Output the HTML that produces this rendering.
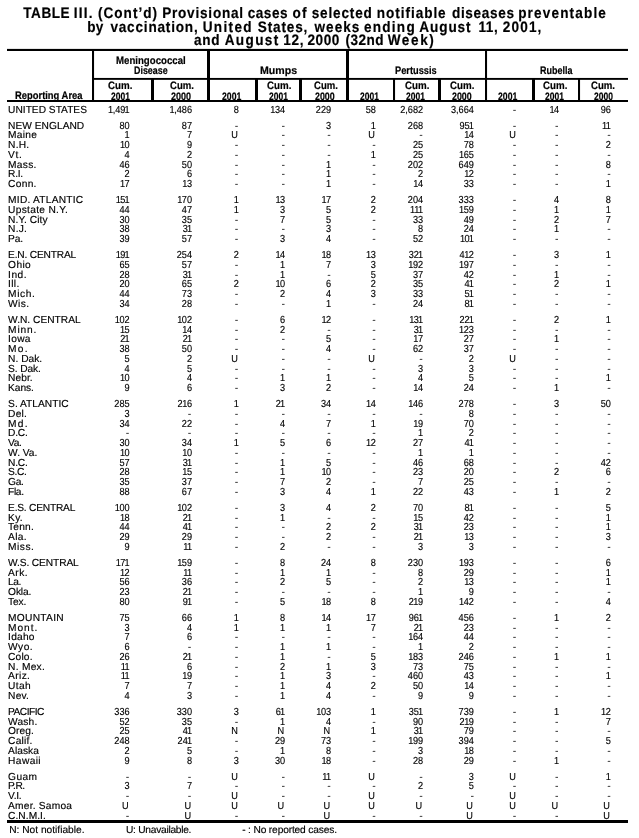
<!DOCTYPE html>
<html lang="en">
<head>
<meta charset="utf-8">
<title>TABLE III. Provisional cases of selected notifiable diseases preventable by vaccination</title>
<style>
html,body{margin:0;padding:0;background:#fff;}
body{width:639px;height:838px;position:relative;overflow:hidden;font-family:"Liberation Sans",sans-serif;color:#000;text-rendering:geometricPrecision;}
#pg{position:absolute;left:0;top:0;width:639px;height:838px;overflow:hidden;background:#fff;will-change:transform;transform:translateZ(0);-webkit-font-smoothing:antialiased;}
.t{position:absolute;font-weight:bold;white-space:nowrap;-webkit-text-stroke:0.2px #000;}
.g{position:absolute;left:0;top:0;}
#lab,#num,#ttl{position:absolute;left:0;top:0;height:838px;}
#ttl{height:48px;}
#lab{width:639px;}
.h{position:absolute;font-weight:bold;white-space:nowrap;transform-origin:0 0;-webkit-text-stroke:0.2px #000;}
.r{position:absolute;left:0;width:639px;white-space:nowrap;}
.r,.f{-webkit-text-stroke:0.15px #000;}
.r .l{position:absolute;top:0;}
.c{position:absolute;top:0;width:60px;text-align:right;box-sizing:border-box;}
.f{position:absolute;white-space:nowrap;}
.c i{font-style:normal;margin-left:-0.5px;margin-right:-0.5px;}
.c i.e{margin-left:-1px;margin-right:0;}
.r,.f{font-size:10.2px;line-height:10px;height:10px;}
.r .l{left:8.1px;letter-spacing:0.3px;}
.r .up{letter-spacing:0.0px;}
.c{letter-spacing:0px;}
.d{padding-right:0.3px;transform:scaleX(1.15);transform-origin:100% 50%;-webkit-text-stroke:0;}
.u{padding-right:1.1px;}
.h{font-size:10.8px;line-height:12px;letter-spacing:0px;}
.t{font-size:15.2px;line-height:16px;letter-spacing:0.5px;}
</style>
</head>
<body>
<div id="pg">
<div id="ttl" style="transform:scaleX(0.894);transform-origin:0 0;width:714.8px">
<span class="t" style="top:6.00px;left:26.01px;letter-spacing:0.604px">TABLE</span>
<span class="t" style="top:6.00px;left:82.61px;letter-spacing:1.311px">III.</span>
<span class="t" style="top:6.00px;left:109.56px;letter-spacing:1.126px">(Cont’d)</span>
<span class="t" style="top:6.00px;left:181.38px;letter-spacing:0.872px">Provisional</span>
<span class="t" style="top:6.00px;left:277.13px;letter-spacing:0.559px">cases</span>
<span class="t" style="top:6.00px;left:327.29px;letter-spacing:1.253px">of</span>
<span class="t" style="top:6.00px;left:348.60px;letter-spacing:0.946px">selected</span>
<span class="t" style="top:6.00px;left:421.36px;letter-spacing:1.073px">notifiable</span>
<span class="t" style="top:6.00px;left:505.54px;letter-spacing:0.742px">diseases</span>
<span class="t" style="top:6.00px;left:579.64px;letter-spacing:1.280px">preventable</span>
<span class="t" style="top:20.00px;left:97.48px;letter-spacing:0.224px">by</span>
<span class="t" style="top:20.00px;left:123.49px;letter-spacing:0.899px">vaccination,</span>
<span class="t" style="top:20.00px;left:226.68px;letter-spacing:1.494px">United</span>
<span class="t" style="top:20.00px;left:288.42px;letter-spacing:0.924px">States,</span>
<span class="t" style="top:20.00px;left:351.79px;letter-spacing:1.152px">weeks</span>
<span class="t" style="top:20.00px;left:407.10px;letter-spacing:1.396px">ending</span>
<span class="t" style="top:20.00px;left:469.02px;letter-spacing:1.002px">August</span>
<span class="t" style="top:20.00px;left:535.23px;letter-spacing:0.582px">11,</span>
<span class="t" style="top:20.00px;left:562.47px;letter-spacing:1.275px">2001,</span>
<span class="t" style="top:33.40px;left:217.00px;letter-spacing:0.850px">and</span>
<span class="t" style="top:33.40px;left:251.29px;letter-spacing:1.539px">August</span>
<span class="t" style="top:33.40px;left:316.72px;letter-spacing:0.783px">12,</span>
<span class="t" style="top:33.40px;left:343.96px;letter-spacing:0.641px">2000</span>
<span class="t" style="top:33.40px;left:386.41px;letter-spacing:0.503px">(32nd</span>
<span class="t" style="top:33.40px;left:433.61px;letter-spacing:1.812px">Week)</span>
</div>
<svg class="g" width="639" height="838" viewBox="0 0 639 838">
<rect x="7" y="48.9" width="621" height="2.1" fill="#000"/>
<rect x="93" y="77.95" width="535" height="1.9" fill="#000"/>
<rect x="7" y="100" width="621" height="2" fill="#000"/>
<rect x="7" y="820" width="621" height="3" fill="#000"/>
<rect x="92" y="49" width="2.05" height="53" fill="#000"/>
<rect x="207" y="49" width="3" height="53" fill="#000"/>
<rect x="346" y="49" width="3" height="53" fill="#000"/>
<rect x="485" y="49" width="2.05" height="53" fill="#000"/>
<rect x="151" y="78" width="3" height="24" fill="#000"/>
<rect x="255" y="78" width="3" height="24" fill="#000"/>
<rect x="299" y="78" width="3" height="24" fill="#000"/>
<rect x="393" y="78" width="2.05" height="24" fill="#000"/>
<rect x="438" y="78" width="3" height="24" fill="#000"/>
<rect x="532" y="78" width="3" height="24" fill="#000"/>
<rect x="578" y="78" width="2.05" height="24" fill="#000"/>
</svg>
<div class="h" style="left:14.60px;top:90.00px;transform:scaleX(0.8698)">Reporting Area</div>
<div class="h" style="left:115.65px;top:55.00px;transform:scaleX(0.8937)">Meningococcal</div>
<div class="h" style="left:133.65px;top:65.00px;transform:scaleX(0.8238)">Disease</div>
<div class="h" style="left:259.55px;top:65.00px;transform:scaleX(0.9809)">Mumps</div>
<div class="h" style="left:394.50px;top:65.00px;transform:scaleX(0.8565)">Pertussis</div>
<div class="h" style="left:539.50px;top:65.00px;transform:scaleX(0.8323)">Rubella</div>
<div class="h" style="left:107.60px;top:80.00px;transform:scaleX(0.9038)">Cum.</div>
<div class="h" style="left:110.65px;top:91.00px;transform:scaleX(0.7852)">2001</div>
<div class="h" style="left:169.55px;top:80.00px;transform:scaleX(0.8866)">Cum.</div>
<div class="h" style="left:170.55px;top:91.00px;transform:scaleX(0.8361)">2000</div>
<div class="h" style="left:221.80px;top:91.00px;transform:scaleX(0.8042)">2001</div>
<div class="h" style="left:266.50px;top:80.00px;transform:scaleX(0.9020)">Cum.</div>
<div class="h" style="left:268.60px;top:91.00px;transform:scaleX(0.7852)">2001</div>
<div class="h" style="left:313.55px;top:80.00px;transform:scaleX(0.8866)">Cum.</div>
<div class="h" style="left:314.70px;top:91.00px;transform:scaleX(0.8216)">2000</div>
<div class="h" style="left:359.60px;top:91.00px;transform:scaleX(0.7852)">2001</div>
<div class="h" style="left:404.65px;top:80.00px;transform:scaleX(0.9038)">Cum.</div>
<div class="h" style="left:405.80px;top:91.00px;transform:scaleX(0.7852)">2001</div>
<div class="h" style="left:449.50px;top:80.00px;transform:scaleX(0.9038)">Cum.</div>
<div class="h" style="left:451.65px;top:91.00px;transform:scaleX(0.8216)">2000</div>
<div class="h" style="left:497.80px;top:91.00px;transform:scaleX(0.8042)">2001</div>
<div class="h" style="left:542.50px;top:80.00px;transform:scaleX(0.9020)">Cum.</div>
<div class="h" style="left:544.60px;top:91.00px;transform:scaleX(0.7852)">2001</div>
<div class="h" style="left:590.50px;top:80.00px;transform:scaleX(0.8905)">Cum.</div>
<div class="h" style="left:593.50px;top:91.00px;transform:scaleX(0.7872)">2000</div>
<div id="lab">
<div class="r" style="top:106.00px"><span class="l" style="letter-spacing:0.000px">UNITED STATES</span></div>
<div class="r" style="top:122.00px"><span class="l" style="letter-spacing:0.025px">NEW ENGLAND</span></div>
<div class="r" style="top:131.00px"><span class="l" style="letter-spacing:0.288px">Maine</span></div>
<div class="r" style="top:141.00px"><span class="l" style="letter-spacing:0.217px">N.H.</span></div>
<div class="r" style="top:151.00px"><span class="l" style="letter-spacing:0.675px">Vt.</span></div>
<div class="r" style="top:161.00px"><span class="l" style="letter-spacing:0.288px">Mass.</span></div>
<div class="r" style="top:170.00px"><span class="l" style="letter-spacing:-0.300px">R.I.</span></div>
<div class="r" style="top:180.00px"><span class="l" style="letter-spacing:0.288px">Conn.</span></div>
<div class="r" style="top:196.00px"><span class="l" style="letter-spacing:0.234px">MID. ATLANTIC</span></div>
<div class="r" style="top:206.00px"><span class="l" style="letter-spacing:0.295px">Upstate N.Y.</span></div>
<div class="r" style="top:216.00px"><span class="l" style="letter-spacing:0.082px">N.Y. City</span></div>
<div class="r" style="top:225.00px"><span class="l" style="letter-spacing:0.183px">N.J.</span></div>
<div class="r" style="top:235.00px"><span class="l" style="letter-spacing:-0.175px">Pa.</span></div>
<div class="r" style="top:251.00px"><span class="l" style="letter-spacing:-0.187px">E.N. CENTRAL</span></div>
<div class="r" style="top:261.00px"><span class="l" style="letter-spacing:0.383px">Ohio</span></div>
<div class="r" style="top:271.00px"><span class="l" style="letter-spacing:0.517px">Ind.</span></div>
<div class="r" style="top:280.00px"><span class="l" style="letter-spacing:0.333px">Ill.</span></div>
<div class="r" style="top:290.00px"><span class="l" style="letter-spacing:0.613px">Mich.</span></div>
<div class="r" style="top:300.00px"><span class="l" style="letter-spacing:0.383px">Wis.</span></div>
<div class="r" style="top:316.00px"><span class="l" style="letter-spacing:0.005px">W.N. CENTRAL</span></div>
<div class="r" style="top:326.00px"><span class="l" style="letter-spacing:0.812px">Minn.</span></div>
<div class="r" style="top:335.00px"><span class="l" style="letter-spacing:0.300px">Iowa</span></div>
<div class="r" style="top:345.00px"><span class="l" style="letter-spacing:1.200px">Mo.</span></div>
<div class="r" style="top:355.00px"><span class="l" style="letter-spacing:0.008px">N. Dak.</span></div>
<div class="r" style="top:365.00px"><span class="l" style="letter-spacing:-0.091px">S. Dak.</span></div>
<div class="r" style="top:374.00px"><span class="l" style="letter-spacing:0.062px">Nebr.</span></div>
<div class="r" style="top:384.00px"><span class="l" style="letter-spacing:-0.062px">Kans.</span></div>
<div class="r" style="top:400.00px"><span class="l" style="letter-spacing:0.010px">S. ATLANTIC</span></div>
<div class="r" style="top:410.00px"><span class="l" style="letter-spacing:0.233px">Del.</span></div>
<div class="r" style="top:420.00px"><span class="l" style="letter-spacing:1.275px">Md.</span></div>
<div class="r" style="top:429.00px"><span class="l" style="letter-spacing:-0.233px">D.C.</span></div>
<div class="r" style="top:439.00px"><span class="l" style="letter-spacing:-0.450px">Va.</span></div>
<div class="r" style="top:449.00px"><span class="l" style="letter-spacing:-0.010px">W. Va.</span></div>
<div class="r" style="top:459.00px"><span class="l" style="letter-spacing:-0.233px">N.C.</span></div>
<div class="r" style="top:468.00px"><span class="l" style="letter-spacing:-0.350px">S.C.</span></div>
<div class="r" style="top:478.00px"><span class="l" style="letter-spacing:-0.300px">Ga.</span></div>
<div class="r" style="top:488.00px"><span class="l" style="letter-spacing:-0.367px">Fla.</span></div>
<div class="r" style="top:504.00px"><span class="l" style="letter-spacing:-0.214px">E.S. CENTRAL</span></div>
<div class="r" style="top:514.00px"><span class="l" style="letter-spacing:0.275px">Ky.</span></div>
<div class="r" style="top:523.00px"><span class="l" style="letter-spacing:0.188px">Tenn.</span></div>
<div class="r" style="top:533.00px"><span class="l" style="letter-spacing:0.350px">Ala.</span></div>
<div class="r" style="top:543.00px"><span class="l" style="letter-spacing:0.500px">Miss.</span></div>
<div class="r" style="top:559.00px"><span class="l" style="letter-spacing:-0.114px">W.S. CENTRAL</span></div>
<div class="r" style="top:569.00px"><span class="l" style="letter-spacing:0.467px">Ark.</span></div>
<div class="r" style="top:578.00px"><span class="l" style="letter-spacing:-0.425px">La.</span></div>
<div class="r" style="top:588.00px"><span class="l" style="letter-spacing:-0.125px">Okla.</span></div>
<div class="r" style="top:598.00px"><span class="l" style="letter-spacing:-0.117px">Tex.</span></div>
<div class="r" style="top:614.00px"><span class="l" style="letter-spacing:0.286px">MOUNTAIN</span></div>
<div class="r" style="top:624.00px"><span class="l" style="letter-spacing:0.926px">Mont.</span></div>
<div class="r" style="top:633.00px"><span class="l" style="letter-spacing:0.238px">Idaho</span></div>
<div class="r" style="top:643.00px"><span class="l" style="letter-spacing:0.467px">Wyo.</span></div>
<div class="r" style="top:653.00px"><span class="l" style="letter-spacing:0.162px">Colo.</span></div>
<div class="r" style="top:663.00px"><span class="l" style="letter-spacing:0.258px">N. Mex.</span></div>
<div class="r" style="top:672.00px"><span class="l" style="letter-spacing:0.363px">Ariz.</span></div>
<div class="r" style="top:682.00px"><span class="l" style="letter-spacing:0.317px">Utah</span></div>
<div class="r" style="top:692.00px"><span class="l" style="letter-spacing:0.216px">Nev.</span></div>
<div class="r" style="top:708.00px"><span class="l" style="letter-spacing:-0.533px">PACIFIC</span></div>
<div class="r" style="top:718.00px"><span class="l" style="letter-spacing:0.176px">Wash.</span></div>
<div class="r" style="top:727.00px"><span class="l" style="letter-spacing:0.062px">Oreg.</span></div>
<div class="r" style="top:737.00px"><span class="l" style="letter-spacing:0.230px">Calif.</span></div>
<div class="r" style="top:747.00px"><span class="l" style="letter-spacing:0.040px">Alaska</span></div>
<div class="r" style="top:757.00px"><span class="l" style="letter-spacing:0.390px">Hawaii</span></div>
<div class="r" style="top:773.00px"><span class="l" style="letter-spacing:0.367px">Guam</span></div>
<div class="r" style="top:782.00px"><span class="l" style="letter-spacing:-0.483px">P.R.</span></div>
<div class="r" style="top:792.00px"><span class="l" style="letter-spacing:-0.283px">V.I.</span></div>
<div class="r" style="top:802.00px"><span class="l" style="letter-spacing:0.220px">Amer. Samoa</span></div>
<div class="r" style="top:812.00px"><span class="l" style="letter-spacing:0.042px">C.N.M.I.</span></div>
</div>
<div id="num" style="transform:scaleX(0.9);transform-origin:0 0;width:710.00px">
<div class="r" style="top:106.00px;width:710.00px"><span class="c" style="left:84.06px"><i>1</i>,49<i class="e">1</i></span><span class="c" style="left:153.39px"><i>1</i>,486</span><span class="c" style="left:205.28px">8</span><span class="c" style="left:256.83px"><i>1</i>34</span><span class="c" style="left:307.94px">229</span><span class="c" style="left:357.61px">58</span><span class="c" style="left:410.11px">2,682</span><span class="c" style="left:466.56px">3,664</span><span class="c d" style="left:514.28px">-</span><span class="c" style="left:561.28px"><i>1</i>4</span><span class="c" style="left:618.72px">96</span></div>
<div class="r" style="top:122.00px;width:710.00px"><span class="c" style="left:84.06px">80</span><span class="c" style="left:153.39px">87</span><span class="c d" style="left:205.28px">-</span><span class="c d" style="left:256.83px">-</span><span class="c" style="left:307.94px">3</span><span class="c" style="left:357.61px"><i class="e">1</i></span><span class="c" style="left:410.11px">268</span><span class="c" style="left:466.56px">95<i class="e">1</i></span><span class="c d" style="left:514.28px">-</span><span class="c d" style="left:561.28px">-</span><span class="c" style="left:618.72px"><i>1</i><i class="e">1</i></span></div>
<div class="r" style="top:131.00px;width:710.00px"><span class="c" style="left:84.06px"><i class="e">1</i></span><span class="c" style="left:153.39px">7</span><span class="c u" style="left:205.28px">U</span><span class="c d" style="left:256.83px">-</span><span class="c d" style="left:307.94px">-</span><span class="c u" style="left:357.61px">U</span><span class="c d" style="left:410.11px">-</span><span class="c" style="left:466.56px"><i>1</i>4</span><span class="c u" style="left:514.28px">U</span><span class="c d" style="left:561.28px">-</span><span class="c d" style="left:618.72px">-</span></div>
<div class="r" style="top:141.00px;width:710.00px"><span class="c" style="left:84.06px"><i>1</i>0</span><span class="c" style="left:153.39px">9</span><span class="c d" style="left:205.28px">-</span><span class="c d" style="left:256.83px">-</span><span class="c d" style="left:307.94px">-</span><span class="c d" style="left:357.61px">-</span><span class="c" style="left:410.11px">25</span><span class="c" style="left:466.56px">78</span><span class="c d" style="left:514.28px">-</span><span class="c d" style="left:561.28px">-</span><span class="c" style="left:618.72px">2</span></div>
<div class="r" style="top:151.00px;width:710.00px"><span class="c" style="left:84.06px">4</span><span class="c" style="left:153.39px">2</span><span class="c d" style="left:205.28px">-</span><span class="c d" style="left:256.83px">-</span><span class="c d" style="left:307.94px">-</span><span class="c" style="left:357.61px"><i class="e">1</i></span><span class="c" style="left:410.11px">25</span><span class="c" style="left:466.56px"><i>1</i>65</span><span class="c d" style="left:514.28px">-</span><span class="c d" style="left:561.28px">-</span><span class="c d" style="left:618.72px">-</span></div>
<div class="r" style="top:161.00px;width:710.00px"><span class="c" style="left:84.06px">46</span><span class="c" style="left:153.39px">50</span><span class="c d" style="left:205.28px">-</span><span class="c d" style="left:256.83px">-</span><span class="c" style="left:307.94px"><i class="e">1</i></span><span class="c d" style="left:357.61px">-</span><span class="c" style="left:410.11px">202</span><span class="c" style="left:466.56px">649</span><span class="c d" style="left:514.28px">-</span><span class="c d" style="left:561.28px">-</span><span class="c" style="left:618.72px">8</span></div>
<div class="r" style="top:170.00px;width:710.00px"><span class="c" style="left:84.06px">2</span><span class="c" style="left:153.39px">6</span><span class="c d" style="left:205.28px">-</span><span class="c d" style="left:256.83px">-</span><span class="c" style="left:307.94px"><i class="e">1</i></span><span class="c d" style="left:357.61px">-</span><span class="c" style="left:410.11px">2</span><span class="c" style="left:466.56px"><i>1</i>2</span><span class="c d" style="left:514.28px">-</span><span class="c d" style="left:561.28px">-</span><span class="c d" style="left:618.72px">-</span></div>
<div class="r" style="top:180.00px;width:710.00px"><span class="c" style="left:84.06px"><i>1</i>7</span><span class="c" style="left:153.39px"><i>1</i>3</span><span class="c d" style="left:205.28px">-</span><span class="c d" style="left:256.83px">-</span><span class="c" style="left:307.94px"><i class="e">1</i></span><span class="c d" style="left:357.61px">-</span><span class="c" style="left:410.11px"><i>1</i>4</span><span class="c" style="left:466.56px">33</span><span class="c d" style="left:514.28px">-</span><span class="c d" style="left:561.28px">-</span><span class="c" style="left:618.72px"><i class="e">1</i></span></div>
<div class="r" style="top:196.00px;width:710.00px"><span class="c" style="left:84.06px"><i>1</i>5<i class="e">1</i></span><span class="c" style="left:153.39px"><i>1</i>70</span><span class="c" style="left:205.28px"><i class="e">1</i></span><span class="c" style="left:256.83px"><i>1</i>3</span><span class="c" style="left:307.94px"><i>1</i>7</span><span class="c" style="left:357.61px">2</span><span class="c" style="left:410.11px">204</span><span class="c" style="left:466.56px">333</span><span class="c d" style="left:514.28px">-</span><span class="c" style="left:561.28px">4</span><span class="c" style="left:618.72px">8</span></div>
<div class="r" style="top:206.00px;width:710.00px"><span class="c" style="left:84.06px">44</span><span class="c" style="left:153.39px">47</span><span class="c" style="left:205.28px"><i class="e">1</i></span><span class="c" style="left:256.83px">3</span><span class="c" style="left:307.94px">5</span><span class="c" style="left:357.61px">2</span><span class="c" style="left:410.11px"><i>1</i><i>1</i><i class="e">1</i></span><span class="c" style="left:466.56px"><i>1</i>59</span><span class="c d" style="left:514.28px">-</span><span class="c" style="left:561.28px"><i class="e">1</i></span><span class="c" style="left:618.72px"><i class="e">1</i></span></div>
<div class="r" style="top:216.00px;width:710.00px"><span class="c" style="left:84.06px">30</span><span class="c" style="left:153.39px">35</span><span class="c d" style="left:205.28px">-</span><span class="c" style="left:256.83px">7</span><span class="c" style="left:307.94px">5</span><span class="c d" style="left:357.61px">-</span><span class="c" style="left:410.11px">33</span><span class="c" style="left:466.56px">49</span><span class="c d" style="left:514.28px">-</span><span class="c" style="left:561.28px">2</span><span class="c" style="left:618.72px">7</span></div>
<div class="r" style="top:225.00px;width:710.00px"><span class="c" style="left:84.06px">38</span><span class="c" style="left:153.39px">3<i class="e">1</i></span><span class="c d" style="left:205.28px">-</span><span class="c d" style="left:256.83px">-</span><span class="c" style="left:307.94px">3</span><span class="c d" style="left:357.61px">-</span><span class="c" style="left:410.11px">8</span><span class="c" style="left:466.56px">24</span><span class="c d" style="left:514.28px">-</span><span class="c" style="left:561.28px"><i class="e">1</i></span><span class="c d" style="left:618.72px">-</span></div>
<div class="r" style="top:235.00px;width:710.00px"><span class="c" style="left:84.06px">39</span><span class="c" style="left:153.39px">57</span><span class="c d" style="left:205.28px">-</span><span class="c" style="left:256.83px">3</span><span class="c" style="left:307.94px">4</span><span class="c d" style="left:357.61px">-</span><span class="c" style="left:410.11px">52</span><span class="c" style="left:466.56px"><i>1</i>0<i class="e">1</i></span><span class="c d" style="left:514.28px">-</span><span class="c d" style="left:561.28px">-</span><span class="c d" style="left:618.72px">-</span></div>
<div class="r" style="top:251.00px;width:710.00px"><span class="c" style="left:84.06px"><i>1</i>9<i class="e">1</i></span><span class="c" style="left:153.39px">254</span><span class="c" style="left:205.28px">2</span><span class="c" style="left:256.83px"><i>1</i>4</span><span class="c" style="left:307.94px"><i>1</i>8</span><span class="c" style="left:357.61px"><i>1</i>3</span><span class="c" style="left:410.11px">32<i class="e">1</i></span><span class="c" style="left:466.56px">4<i>1</i>2</span><span class="c d" style="left:514.28px">-</span><span class="c" style="left:561.28px">3</span><span class="c" style="left:618.72px"><i class="e">1</i></span></div>
<div class="r" style="top:261.00px;width:710.00px"><span class="c" style="left:84.06px">65</span><span class="c" style="left:153.39px">57</span><span class="c d" style="left:205.28px">-</span><span class="c" style="left:256.83px"><i class="e">1</i></span><span class="c" style="left:307.94px">7</span><span class="c" style="left:357.61px">3</span><span class="c" style="left:410.11px"><i>1</i>92</span><span class="c" style="left:466.56px"><i>1</i>97</span><span class="c d" style="left:514.28px">-</span><span class="c d" style="left:561.28px">-</span><span class="c d" style="left:618.72px">-</span></div>
<div class="r" style="top:271.00px;width:710.00px"><span class="c" style="left:84.06px">28</span><span class="c" style="left:153.39px">3<i class="e">1</i></span><span class="c d" style="left:205.28px">-</span><span class="c" style="left:256.83px"><i class="e">1</i></span><span class="c d" style="left:307.94px">-</span><span class="c" style="left:357.61px">5</span><span class="c" style="left:410.11px">37</span><span class="c" style="left:466.56px">42</span><span class="c d" style="left:514.28px">-</span><span class="c" style="left:561.28px"><i class="e">1</i></span><span class="c d" style="left:618.72px">-</span></div>
<div class="r" style="top:280.00px;width:710.00px"><span class="c" style="left:84.06px">20</span><span class="c" style="left:153.39px">65</span><span class="c" style="left:205.28px">2</span><span class="c" style="left:256.83px"><i>1</i>0</span><span class="c" style="left:307.94px">6</span><span class="c" style="left:357.61px">2</span><span class="c" style="left:410.11px">35</span><span class="c" style="left:466.56px">4<i class="e">1</i></span><span class="c d" style="left:514.28px">-</span><span class="c" style="left:561.28px">2</span><span class="c" style="left:618.72px"><i class="e">1</i></span></div>
<div class="r" style="top:290.00px;width:710.00px"><span class="c" style="left:84.06px">44</span><span class="c" style="left:153.39px">73</span><span class="c d" style="left:205.28px">-</span><span class="c" style="left:256.83px">2</span><span class="c" style="left:307.94px">4</span><span class="c" style="left:357.61px">3</span><span class="c" style="left:410.11px">33</span><span class="c" style="left:466.56px">5<i class="e">1</i></span><span class="c d" style="left:514.28px">-</span><span class="c d" style="left:561.28px">-</span><span class="c d" style="left:618.72px">-</span></div>
<div class="r" style="top:300.00px;width:710.00px"><span class="c" style="left:84.06px">34</span><span class="c" style="left:153.39px">28</span><span class="c d" style="left:205.28px">-</span><span class="c d" style="left:256.83px">-</span><span class="c" style="left:307.94px"><i class="e">1</i></span><span class="c d" style="left:357.61px">-</span><span class="c" style="left:410.11px">24</span><span class="c" style="left:466.56px">8<i class="e">1</i></span><span class="c d" style="left:514.28px">-</span><span class="c d" style="left:561.28px">-</span><span class="c d" style="left:618.72px">-</span></div>
<div class="r" style="top:316.00px;width:710.00px"><span class="c" style="left:84.06px"><i>1</i>02</span><span class="c" style="left:153.39px"><i>1</i>02</span><span class="c d" style="left:205.28px">-</span><span class="c" style="left:256.83px">6</span><span class="c" style="left:307.94px"><i>1</i>2</span><span class="c d" style="left:357.61px">-</span><span class="c" style="left:410.11px"><i>1</i>3<i class="e">1</i></span><span class="c" style="left:466.56px">22<i class="e">1</i></span><span class="c d" style="left:514.28px">-</span><span class="c" style="left:561.28px">2</span><span class="c" style="left:618.72px"><i class="e">1</i></span></div>
<div class="r" style="top:326.00px;width:710.00px"><span class="c" style="left:84.06px"><i>1</i>5</span><span class="c" style="left:153.39px"><i>1</i>4</span><span class="c d" style="left:205.28px">-</span><span class="c" style="left:256.83px">2</span><span class="c d" style="left:307.94px">-</span><span class="c d" style="left:357.61px">-</span><span class="c" style="left:410.11px">3<i class="e">1</i></span><span class="c" style="left:466.56px"><i>1</i>23</span><span class="c d" style="left:514.28px">-</span><span class="c d" style="left:561.28px">-</span><span class="c d" style="left:618.72px">-</span></div>
<div class="r" style="top:335.00px;width:710.00px"><span class="c" style="left:84.06px">2<i class="e">1</i></span><span class="c" style="left:153.39px">2<i class="e">1</i></span><span class="c d" style="left:205.28px">-</span><span class="c d" style="left:256.83px">-</span><span class="c" style="left:307.94px">5</span><span class="c d" style="left:357.61px">-</span><span class="c" style="left:410.11px"><i>1</i>7</span><span class="c" style="left:466.56px">27</span><span class="c d" style="left:514.28px">-</span><span class="c" style="left:561.28px"><i class="e">1</i></span><span class="c d" style="left:618.72px">-</span></div>
<div class="r" style="top:345.00px;width:710.00px"><span class="c" style="left:84.06px">38</span><span class="c" style="left:153.39px">50</span><span class="c d" style="left:205.28px">-</span><span class="c d" style="left:256.83px">-</span><span class="c" style="left:307.94px">4</span><span class="c d" style="left:357.61px">-</span><span class="c" style="left:410.11px">62</span><span class="c" style="left:466.56px">37</span><span class="c d" style="left:514.28px">-</span><span class="c d" style="left:561.28px">-</span><span class="c d" style="left:618.72px">-</span></div>
<div class="r" style="top:355.00px;width:710.00px"><span class="c" style="left:84.06px">5</span><span class="c" style="left:153.39px">2</span><span class="c u" style="left:205.28px">U</span><span class="c d" style="left:256.83px">-</span><span class="c d" style="left:307.94px">-</span><span class="c u" style="left:357.61px">U</span><span class="c d" style="left:410.11px">-</span><span class="c" style="left:466.56px">2</span><span class="c u" style="left:514.28px">U</span><span class="c d" style="left:561.28px">-</span><span class="c d" style="left:618.72px">-</span></div>
<div class="r" style="top:365.00px;width:710.00px"><span class="c" style="left:84.06px">4</span><span class="c" style="left:153.39px">5</span><span class="c d" style="left:205.28px">-</span><span class="c d" style="left:256.83px">-</span><span class="c d" style="left:307.94px">-</span><span class="c d" style="left:357.61px">-</span><span class="c" style="left:410.11px">3</span><span class="c" style="left:466.56px">3</span><span class="c d" style="left:514.28px">-</span><span class="c d" style="left:561.28px">-</span><span class="c d" style="left:618.72px">-</span></div>
<div class="r" style="top:374.00px;width:710.00px"><span class="c" style="left:84.06px"><i>1</i>0</span><span class="c" style="left:153.39px">4</span><span class="c d" style="left:205.28px">-</span><span class="c" style="left:256.83px"><i class="e">1</i></span><span class="c" style="left:307.94px"><i class="e">1</i></span><span class="c d" style="left:357.61px">-</span><span class="c" style="left:410.11px">4</span><span class="c" style="left:466.56px">5</span><span class="c d" style="left:514.28px">-</span><span class="c d" style="left:561.28px">-</span><span class="c" style="left:618.72px"><i class="e">1</i></span></div>
<div class="r" style="top:384.00px;width:710.00px"><span class="c" style="left:84.06px">9</span><span class="c" style="left:153.39px">6</span><span class="c d" style="left:205.28px">-</span><span class="c" style="left:256.83px">3</span><span class="c" style="left:307.94px">2</span><span class="c d" style="left:357.61px">-</span><span class="c" style="left:410.11px"><i>1</i>4</span><span class="c" style="left:466.56px">24</span><span class="c d" style="left:514.28px">-</span><span class="c" style="left:561.28px"><i class="e">1</i></span><span class="c d" style="left:618.72px">-</span></div>
<div class="r" style="top:400.00px;width:710.00px"><span class="c" style="left:84.06px">285</span><span class="c" style="left:153.39px">2<i>1</i>6</span><span class="c" style="left:205.28px"><i class="e">1</i></span><span class="c" style="left:256.83px">2<i class="e">1</i></span><span class="c" style="left:307.94px">34</span><span class="c" style="left:357.61px"><i>1</i>4</span><span class="c" style="left:410.11px"><i>1</i>46</span><span class="c" style="left:466.56px">278</span><span class="c d" style="left:514.28px">-</span><span class="c" style="left:561.28px">3</span><span class="c" style="left:618.72px">50</span></div>
<div class="r" style="top:410.00px;width:710.00px"><span class="c" style="left:84.06px">3</span><span class="c d" style="left:153.39px">-</span><span class="c d" style="left:205.28px">-</span><span class="c d" style="left:256.83px">-</span><span class="c d" style="left:307.94px">-</span><span class="c d" style="left:357.61px">-</span><span class="c d" style="left:410.11px">-</span><span class="c" style="left:466.56px">8</span><span class="c d" style="left:514.28px">-</span><span class="c d" style="left:561.28px">-</span><span class="c d" style="left:618.72px">-</span></div>
<div class="r" style="top:420.00px;width:710.00px"><span class="c" style="left:84.06px">34</span><span class="c" style="left:153.39px">22</span><span class="c d" style="left:205.28px">-</span><span class="c" style="left:256.83px">4</span><span class="c" style="left:307.94px">7</span><span class="c" style="left:357.61px"><i class="e">1</i></span><span class="c" style="left:410.11px"><i>1</i>9</span><span class="c" style="left:466.56px">70</span><span class="c d" style="left:514.28px">-</span><span class="c d" style="left:561.28px">-</span><span class="c d" style="left:618.72px">-</span></div>
<div class="r" style="top:429.00px;width:710.00px"><span class="c d" style="left:84.06px">-</span><span class="c d" style="left:153.39px">-</span><span class="c d" style="left:205.28px">-</span><span class="c d" style="left:256.83px">-</span><span class="c d" style="left:307.94px">-</span><span class="c d" style="left:357.61px">-</span><span class="c" style="left:410.11px"><i class="e">1</i></span><span class="c" style="left:466.56px">2</span><span class="c d" style="left:514.28px">-</span><span class="c d" style="left:561.28px">-</span><span class="c d" style="left:618.72px">-</span></div>
<div class="r" style="top:439.00px;width:710.00px"><span class="c" style="left:84.06px">30</span><span class="c" style="left:153.39px">34</span><span class="c" style="left:205.28px"><i class="e">1</i></span><span class="c" style="left:256.83px">5</span><span class="c" style="left:307.94px">6</span><span class="c" style="left:357.61px"><i>1</i>2</span><span class="c" style="left:410.11px">27</span><span class="c" style="left:466.56px">4<i class="e">1</i></span><span class="c d" style="left:514.28px">-</span><span class="c d" style="left:561.28px">-</span><span class="c d" style="left:618.72px">-</span></div>
<div class="r" style="top:449.00px;width:710.00px"><span class="c" style="left:84.06px"><i>1</i>0</span><span class="c" style="left:153.39px"><i>1</i>0</span><span class="c d" style="left:205.28px">-</span><span class="c d" style="left:256.83px">-</span><span class="c d" style="left:307.94px">-</span><span class="c d" style="left:357.61px">-</span><span class="c" style="left:410.11px"><i class="e">1</i></span><span class="c" style="left:466.56px"><i class="e">1</i></span><span class="c d" style="left:514.28px">-</span><span class="c d" style="left:561.28px">-</span><span class="c d" style="left:618.72px">-</span></div>
<div class="r" style="top:459.00px;width:710.00px"><span class="c" style="left:84.06px">57</span><span class="c" style="left:153.39px">3<i class="e">1</i></span><span class="c d" style="left:205.28px">-</span><span class="c" style="left:256.83px"><i class="e">1</i></span><span class="c" style="left:307.94px">5</span><span class="c d" style="left:357.61px">-</span><span class="c" style="left:410.11px">46</span><span class="c" style="left:466.56px">68</span><span class="c d" style="left:514.28px">-</span><span class="c d" style="left:561.28px">-</span><span class="c" style="left:618.72px">42</span></div>
<div class="r" style="top:468.00px;width:710.00px"><span class="c" style="left:84.06px">28</span><span class="c" style="left:153.39px"><i>1</i>5</span><span class="c d" style="left:205.28px">-</span><span class="c" style="left:256.83px"><i class="e">1</i></span><span class="c" style="left:307.94px"><i>1</i>0</span><span class="c d" style="left:357.61px">-</span><span class="c" style="left:410.11px">23</span><span class="c" style="left:466.56px">20</span><span class="c d" style="left:514.28px">-</span><span class="c" style="left:561.28px">2</span><span class="c" style="left:618.72px">6</span></div>
<div class="r" style="top:478.00px;width:710.00px"><span class="c" style="left:84.06px">35</span><span class="c" style="left:153.39px">37</span><span class="c d" style="left:205.28px">-</span><span class="c" style="left:256.83px">7</span><span class="c" style="left:307.94px">2</span><span class="c d" style="left:357.61px">-</span><span class="c" style="left:410.11px">7</span><span class="c" style="left:466.56px">25</span><span class="c d" style="left:514.28px">-</span><span class="c d" style="left:561.28px">-</span><span class="c d" style="left:618.72px">-</span></div>
<div class="r" style="top:488.00px;width:710.00px"><span class="c" style="left:84.06px">88</span><span class="c" style="left:153.39px">67</span><span class="c d" style="left:205.28px">-</span><span class="c" style="left:256.83px">3</span><span class="c" style="left:307.94px">4</span><span class="c" style="left:357.61px"><i class="e">1</i></span><span class="c" style="left:410.11px">22</span><span class="c" style="left:466.56px">43</span><span class="c d" style="left:514.28px">-</span><span class="c" style="left:561.28px"><i class="e">1</i></span><span class="c" style="left:618.72px">2</span></div>
<div class="r" style="top:504.00px;width:710.00px"><span class="c" style="left:84.06px"><i>1</i>00</span><span class="c" style="left:153.39px"><i>1</i>02</span><span class="c d" style="left:205.28px">-</span><span class="c" style="left:256.83px">3</span><span class="c" style="left:307.94px">4</span><span class="c" style="left:357.61px">2</span><span class="c" style="left:410.11px">70</span><span class="c" style="left:466.56px">8<i class="e">1</i></span><span class="c d" style="left:514.28px">-</span><span class="c d" style="left:561.28px">-</span><span class="c" style="left:618.72px">5</span></div>
<div class="r" style="top:514.00px;width:710.00px"><span class="c" style="left:84.06px"><i>1</i>8</span><span class="c" style="left:153.39px">2<i class="e">1</i></span><span class="c d" style="left:205.28px">-</span><span class="c" style="left:256.83px"><i class="e">1</i></span><span class="c d" style="left:307.94px">-</span><span class="c d" style="left:357.61px">-</span><span class="c" style="left:410.11px"><i>1</i>5</span><span class="c" style="left:466.56px">42</span><span class="c d" style="left:514.28px">-</span><span class="c d" style="left:561.28px">-</span><span class="c" style="left:618.72px"><i class="e">1</i></span></div>
<div class="r" style="top:523.00px;width:710.00px"><span class="c" style="left:84.06px">44</span><span class="c" style="left:153.39px">4<i class="e">1</i></span><span class="c d" style="left:205.28px">-</span><span class="c d" style="left:256.83px">-</span><span class="c" style="left:307.94px">2</span><span class="c" style="left:357.61px">2</span><span class="c" style="left:410.11px">3<i class="e">1</i></span><span class="c" style="left:466.56px">23</span><span class="c d" style="left:514.28px">-</span><span class="c d" style="left:561.28px">-</span><span class="c" style="left:618.72px"><i class="e">1</i></span></div>
<div class="r" style="top:533.00px;width:710.00px"><span class="c" style="left:84.06px">29</span><span class="c" style="left:153.39px">29</span><span class="c d" style="left:205.28px">-</span><span class="c d" style="left:256.83px">-</span><span class="c" style="left:307.94px">2</span><span class="c d" style="left:357.61px">-</span><span class="c" style="left:410.11px">2<i class="e">1</i></span><span class="c" style="left:466.56px"><i>1</i>3</span><span class="c d" style="left:514.28px">-</span><span class="c d" style="left:561.28px">-</span><span class="c" style="left:618.72px">3</span></div>
<div class="r" style="top:543.00px;width:710.00px"><span class="c" style="left:84.06px">9</span><span class="c" style="left:153.39px"><i>1</i><i class="e">1</i></span><span class="c d" style="left:205.28px">-</span><span class="c" style="left:256.83px">2</span><span class="c d" style="left:307.94px">-</span><span class="c d" style="left:357.61px">-</span><span class="c" style="left:410.11px">3</span><span class="c" style="left:466.56px">3</span><span class="c d" style="left:514.28px">-</span><span class="c d" style="left:561.28px">-</span><span class="c d" style="left:618.72px">-</span></div>
<div class="r" style="top:559.00px;width:710.00px"><span class="c" style="left:84.06px"><i>1</i>7<i class="e">1</i></span><span class="c" style="left:153.39px"><i>1</i>59</span><span class="c d" style="left:205.28px">-</span><span class="c" style="left:256.83px">8</span><span class="c" style="left:307.94px">24</span><span class="c" style="left:357.61px">8</span><span class="c" style="left:410.11px">230</span><span class="c" style="left:466.56px"><i>1</i>93</span><span class="c d" style="left:514.28px">-</span><span class="c d" style="left:561.28px">-</span><span class="c" style="left:618.72px">6</span></div>
<div class="r" style="top:569.00px;width:710.00px"><span class="c" style="left:84.06px"><i>1</i>2</span><span class="c" style="left:153.39px"><i>1</i><i class="e">1</i></span><span class="c d" style="left:205.28px">-</span><span class="c" style="left:256.83px"><i class="e">1</i></span><span class="c" style="left:307.94px"><i class="e">1</i></span><span class="c d" style="left:357.61px">-</span><span class="c" style="left:410.11px">8</span><span class="c" style="left:466.56px">29</span><span class="c d" style="left:514.28px">-</span><span class="c d" style="left:561.28px">-</span><span class="c" style="left:618.72px"><i class="e">1</i></span></div>
<div class="r" style="top:578.00px;width:710.00px"><span class="c" style="left:84.06px">56</span><span class="c" style="left:153.39px">36</span><span class="c d" style="left:205.28px">-</span><span class="c" style="left:256.83px">2</span><span class="c" style="left:307.94px">5</span><span class="c d" style="left:357.61px">-</span><span class="c" style="left:410.11px">2</span><span class="c" style="left:466.56px"><i>1</i>3</span><span class="c d" style="left:514.28px">-</span><span class="c d" style="left:561.28px">-</span><span class="c" style="left:618.72px"><i class="e">1</i></span></div>
<div class="r" style="top:588.00px;width:710.00px"><span class="c" style="left:84.06px">23</span><span class="c" style="left:153.39px">2<i class="e">1</i></span><span class="c d" style="left:205.28px">-</span><span class="c d" style="left:256.83px">-</span><span class="c d" style="left:307.94px">-</span><span class="c d" style="left:357.61px">-</span><span class="c" style="left:410.11px"><i class="e">1</i></span><span class="c" style="left:466.56px">9</span><span class="c d" style="left:514.28px">-</span><span class="c d" style="left:561.28px">-</span><span class="c d" style="left:618.72px">-</span></div>
<div class="r" style="top:598.00px;width:710.00px"><span class="c" style="left:84.06px">80</span><span class="c" style="left:153.39px">9<i class="e">1</i></span><span class="c d" style="left:205.28px">-</span><span class="c" style="left:256.83px">5</span><span class="c" style="left:307.94px"><i>1</i>8</span><span class="c" style="left:357.61px">8</span><span class="c" style="left:410.11px">2<i>1</i>9</span><span class="c" style="left:466.56px"><i>1</i>42</span><span class="c d" style="left:514.28px">-</span><span class="c d" style="left:561.28px">-</span><span class="c" style="left:618.72px">4</span></div>
<div class="r" style="top:614.00px;width:710.00px"><span class="c" style="left:84.06px">75</span><span class="c" style="left:153.39px">66</span><span class="c" style="left:205.28px"><i class="e">1</i></span><span class="c" style="left:256.83px">8</span><span class="c" style="left:307.94px"><i>1</i>4</span><span class="c" style="left:357.61px"><i>1</i>7</span><span class="c" style="left:410.11px">96<i class="e">1</i></span><span class="c" style="left:466.56px">456</span><span class="c d" style="left:514.28px">-</span><span class="c" style="left:561.28px"><i class="e">1</i></span><span class="c" style="left:618.72px">2</span></div>
<div class="r" style="top:624.00px;width:710.00px"><span class="c" style="left:84.06px">3</span><span class="c" style="left:153.39px">4</span><span class="c" style="left:205.28px"><i class="e">1</i></span><span class="c" style="left:256.83px"><i class="e">1</i></span><span class="c" style="left:307.94px"><i class="e">1</i></span><span class="c" style="left:357.61px">7</span><span class="c" style="left:410.11px">2<i class="e">1</i></span><span class="c" style="left:466.56px">23</span><span class="c d" style="left:514.28px">-</span><span class="c d" style="left:561.28px">-</span><span class="c d" style="left:618.72px">-</span></div>
<div class="r" style="top:633.00px;width:710.00px"><span class="c" style="left:84.06px">7</span><span class="c" style="left:153.39px">6</span><span class="c d" style="left:205.28px">-</span><span class="c d" style="left:256.83px">-</span><span class="c d" style="left:307.94px">-</span><span class="c d" style="left:357.61px">-</span><span class="c" style="left:410.11px"><i>1</i>64</span><span class="c" style="left:466.56px">44</span><span class="c d" style="left:514.28px">-</span><span class="c d" style="left:561.28px">-</span><span class="c d" style="left:618.72px">-</span></div>
<div class="r" style="top:643.00px;width:710.00px"><span class="c" style="left:84.06px">6</span><span class="c d" style="left:153.39px">-</span><span class="c d" style="left:205.28px">-</span><span class="c" style="left:256.83px"><i class="e">1</i></span><span class="c" style="left:307.94px"><i class="e">1</i></span><span class="c d" style="left:357.61px">-</span><span class="c" style="left:410.11px"><i class="e">1</i></span><span class="c" style="left:466.56px">2</span><span class="c d" style="left:514.28px">-</span><span class="c d" style="left:561.28px">-</span><span class="c d" style="left:618.72px">-</span></div>
<div class="r" style="top:653.00px;width:710.00px"><span class="c" style="left:84.06px">26</span><span class="c" style="left:153.39px">2<i class="e">1</i></span><span class="c d" style="left:205.28px">-</span><span class="c" style="left:256.83px"><i class="e">1</i></span><span class="c d" style="left:307.94px">-</span><span class="c" style="left:357.61px">5</span><span class="c" style="left:410.11px"><i>1</i>83</span><span class="c" style="left:466.56px">246</span><span class="c d" style="left:514.28px">-</span><span class="c" style="left:561.28px"><i class="e">1</i></span><span class="c" style="left:618.72px"><i class="e">1</i></span></div>
<div class="r" style="top:663.00px;width:710.00px"><span class="c" style="left:84.06px"><i>1</i><i class="e">1</i></span><span class="c" style="left:153.39px">6</span><span class="c d" style="left:205.28px">-</span><span class="c" style="left:256.83px">2</span><span class="c" style="left:307.94px"><i class="e">1</i></span><span class="c" style="left:357.61px">3</span><span class="c" style="left:410.11px">73</span><span class="c" style="left:466.56px">75</span><span class="c d" style="left:514.28px">-</span><span class="c d" style="left:561.28px">-</span><span class="c d" style="left:618.72px">-</span></div>
<div class="r" style="top:672.00px;width:710.00px"><span class="c" style="left:84.06px"><i>1</i><i class="e">1</i></span><span class="c" style="left:153.39px"><i>1</i>9</span><span class="c d" style="left:205.28px">-</span><span class="c" style="left:256.83px"><i class="e">1</i></span><span class="c" style="left:307.94px">3</span><span class="c d" style="left:357.61px">-</span><span class="c" style="left:410.11px">460</span><span class="c" style="left:466.56px">43</span><span class="c d" style="left:514.28px">-</span><span class="c d" style="left:561.28px">-</span><span class="c" style="left:618.72px"><i class="e">1</i></span></div>
<div class="r" style="top:682.00px;width:710.00px"><span class="c" style="left:84.06px">7</span><span class="c" style="left:153.39px">7</span><span class="c d" style="left:205.28px">-</span><span class="c" style="left:256.83px"><i class="e">1</i></span><span class="c" style="left:307.94px">4</span><span class="c" style="left:357.61px">2</span><span class="c" style="left:410.11px">50</span><span class="c" style="left:466.56px"><i>1</i>4</span><span class="c d" style="left:514.28px">-</span><span class="c d" style="left:561.28px">-</span><span class="c d" style="left:618.72px">-</span></div>
<div class="r" style="top:692.00px;width:710.00px"><span class="c" style="left:84.06px">4</span><span class="c" style="left:153.39px">3</span><span class="c d" style="left:205.28px">-</span><span class="c" style="left:256.83px"><i class="e">1</i></span><span class="c" style="left:307.94px">4</span><span class="c d" style="left:357.61px">-</span><span class="c" style="left:410.11px">9</span><span class="c" style="left:466.56px">9</span><span class="c d" style="left:514.28px">-</span><span class="c d" style="left:561.28px">-</span><span class="c d" style="left:618.72px">-</span></div>
<div class="r" style="top:708.00px;width:710.00px"><span class="c" style="left:84.06px">336</span><span class="c" style="left:153.39px">330</span><span class="c" style="left:205.28px">3</span><span class="c" style="left:256.83px">6<i class="e">1</i></span><span class="c" style="left:307.94px"><i>1</i>03</span><span class="c" style="left:357.61px"><i class="e">1</i></span><span class="c" style="left:410.11px">35<i class="e">1</i></span><span class="c" style="left:466.56px">739</span><span class="c d" style="left:514.28px">-</span><span class="c" style="left:561.28px"><i class="e">1</i></span><span class="c" style="left:618.72px"><i>1</i>2</span></div>
<div class="r" style="top:718.00px;width:710.00px"><span class="c" style="left:84.06px">52</span><span class="c" style="left:153.39px">35</span><span class="c d" style="left:205.28px">-</span><span class="c" style="left:256.83px"><i class="e">1</i></span><span class="c" style="left:307.94px">4</span><span class="c d" style="left:357.61px">-</span><span class="c" style="left:410.11px">90</span><span class="c" style="left:466.56px">2<i>1</i>9</span><span class="c d" style="left:514.28px">-</span><span class="c d" style="left:561.28px">-</span><span class="c" style="left:618.72px">7</span></div>
<div class="r" style="top:727.00px;width:710.00px"><span class="c" style="left:84.06px">25</span><span class="c" style="left:153.39px">4<i class="e">1</i></span><span class="c u" style="left:205.28px">N</span><span class="c u" style="left:256.83px">N</span><span class="c u" style="left:307.94px">N</span><span class="c" style="left:357.61px"><i class="e">1</i></span><span class="c" style="left:410.11px">3<i class="e">1</i></span><span class="c" style="left:466.56px">79</span><span class="c d" style="left:514.28px">-</span><span class="c d" style="left:561.28px">-</span><span class="c d" style="left:618.72px">-</span></div>
<div class="r" style="top:737.00px;width:710.00px"><span class="c" style="left:84.06px">248</span><span class="c" style="left:153.39px">24<i class="e">1</i></span><span class="c d" style="left:205.28px">-</span><span class="c" style="left:256.83px">29</span><span class="c" style="left:307.94px">73</span><span class="c d" style="left:357.61px">-</span><span class="c" style="left:410.11px"><i>1</i>99</span><span class="c" style="left:466.56px">394</span><span class="c d" style="left:514.28px">-</span><span class="c d" style="left:561.28px">-</span><span class="c" style="left:618.72px">5</span></div>
<div class="r" style="top:747.00px;width:710.00px"><span class="c" style="left:84.06px">2</span><span class="c" style="left:153.39px">5</span><span class="c d" style="left:205.28px">-</span><span class="c" style="left:256.83px"><i class="e">1</i></span><span class="c" style="left:307.94px">8</span><span class="c d" style="left:357.61px">-</span><span class="c" style="left:410.11px">3</span><span class="c" style="left:466.56px"><i>1</i>8</span><span class="c d" style="left:514.28px">-</span><span class="c d" style="left:561.28px">-</span><span class="c d" style="left:618.72px">-</span></div>
<div class="r" style="top:757.00px;width:710.00px"><span class="c" style="left:84.06px">9</span><span class="c" style="left:153.39px">8</span><span class="c" style="left:205.28px">3</span><span class="c" style="left:256.83px">30</span><span class="c" style="left:307.94px"><i>1</i>8</span><span class="c d" style="left:357.61px">-</span><span class="c" style="left:410.11px">28</span><span class="c" style="left:466.56px">29</span><span class="c d" style="left:514.28px">-</span><span class="c" style="left:561.28px"><i class="e">1</i></span><span class="c d" style="left:618.72px">-</span></div>
<div class="r" style="top:773.00px;width:710.00px"><span class="c d" style="left:84.06px">-</span><span class="c d" style="left:153.39px">-</span><span class="c u" style="left:205.28px">U</span><span class="c d" style="left:256.83px">-</span><span class="c" style="left:307.94px"><i>1</i><i class="e">1</i></span><span class="c u" style="left:357.61px">U</span><span class="c d" style="left:410.11px">-</span><span class="c" style="left:466.56px">3</span><span class="c u" style="left:514.28px">U</span><span class="c d" style="left:561.28px">-</span><span class="c" style="left:618.72px"><i class="e">1</i></span></div>
<div class="r" style="top:782.00px;width:710.00px"><span class="c" style="left:84.06px">3</span><span class="c" style="left:153.39px">7</span><span class="c d" style="left:205.28px">-</span><span class="c d" style="left:256.83px">-</span><span class="c d" style="left:307.94px">-</span><span class="c d" style="left:357.61px">-</span><span class="c" style="left:410.11px">2</span><span class="c" style="left:466.56px">5</span><span class="c d" style="left:514.28px">-</span><span class="c d" style="left:561.28px">-</span><span class="c d" style="left:618.72px">-</span></div>
<div class="r" style="top:792.00px;width:710.00px"><span class="c d" style="left:84.06px">-</span><span class="c d" style="left:153.39px">-</span><span class="c u" style="left:205.28px">U</span><span class="c d" style="left:256.83px">-</span><span class="c d" style="left:307.94px">-</span><span class="c u" style="left:357.61px">U</span><span class="c d" style="left:410.11px">-</span><span class="c d" style="left:466.56px">-</span><span class="c u" style="left:514.28px">U</span><span class="c d" style="left:561.28px">-</span><span class="c d" style="left:618.72px">-</span></div>
<div class="r" style="top:802.00px;width:710.00px"><span class="c u" style="left:84.06px">U</span><span class="c u" style="left:153.39px">U</span><span class="c u" style="left:205.28px">U</span><span class="c u" style="left:256.83px">U</span><span class="c u" style="left:307.94px">U</span><span class="c u" style="left:357.61px">U</span><span class="c u" style="left:410.11px">U</span><span class="c u" style="left:466.56px">U</span><span class="c u" style="left:514.28px">U</span><span class="c u" style="left:561.28px">U</span><span class="c u" style="left:618.72px">U</span></div>
<div class="r" style="top:812.00px;width:710.00px"><span class="c d" style="left:84.06px">-</span><span class="c u" style="left:153.39px">U</span><span class="c d" style="left:205.28px">-</span><span class="c d" style="left:256.83px">-</span><span class="c u" style="left:307.94px">U</span><span class="c d" style="left:357.61px">-</span><span class="c d" style="left:410.11px">-</span><span class="c u" style="left:466.56px">U</span><span class="c d" style="left:514.28px">-</span><span class="c d" style="left:561.28px">-</span><span class="c u" style="left:618.72px">U</span></div>
</div>
<div class="f" style="left:9.2px;top:826.00px;letter-spacing:0px">N: Not notifiable.</div>
<div class="f" style="left:126.0px;top:826.00px;letter-spacing:-0.26px">U: Unavailable.</div>
<div class="f" style="left:242.2px;top:826.00px;letter-spacing:-0.15px">- : No reported cases.</div>
</div>
</body>
</html>
